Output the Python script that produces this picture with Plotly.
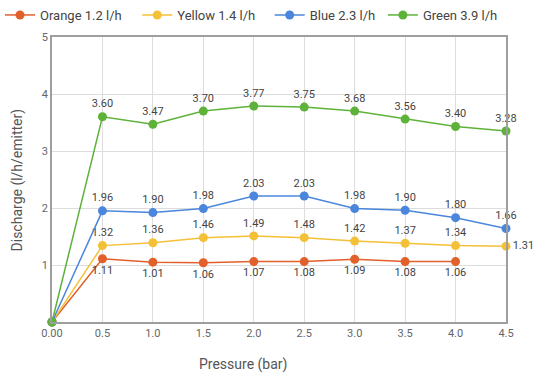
import plotly.graph_objects as go

pressure = [0.0, 0.5, 1.0, 1.5, 2.0, 2.5, 3.0, 3.5, 4.0, 4.5]
x_tick_vals = [0.0, 0.5, 1.0, 1.5, 2.0, 2.5, 3.0, 3.5, 4.0, 4.5]
x_tick_text = ["0.00", "0.5", "1.0", "1.5", "2.0", "2.5", "3.0", "3.5", "4.0", "4.5"]
y_tick_vals = [1, 2, 3, 4, 5]

series_names = ["Orange 1.2 l/h", "Yellow 1.4 l/h", "Blue 2.3 l/h", "Green 3.9 l/h"]
series_colors = ["#E2602B", "#F4C038", "#4A86DC", "#5DB23A"]

orange_vals = [0.0, 1.11, 1.05, 1.04, 1.06, 1.06, 1.10, 1.06, 1.06]
yellow_vals = [0.0, 1.34, 1.39, 1.48, 1.51, 1.48, 1.42, 1.38, 1.34, 1.33]
blue_vals = [0.0, 1.95, 1.92, 1.99, 2.21, 2.21, 1.99, 1.96, 1.83, 1.64]
green_vals = [0.0, 3.60, 3.47, 3.70, 3.79, 3.77, 3.70, 3.56, 3.43, 3.35]

orange_labels = ["", "1.11", "1.01", "1.06", "1.07", "1.08", "1.09", "1.08", "1.06"]
yellow_labels = ["", "1.32", "1.36", "1.46", "1.49", "1.48", "1.42", "1.37", "1.34", "1.31"]
blue_labels = ["", "1.96", "1.90", "1.98", "2.03", "2.03", "1.98", "1.90", "1.80", "1.66"]
green_labels = ["", "3.60", "3.47", "3.70", "3.77", "3.75", "3.68", "3.56", "3.40", "3.28"]

all_vals = [orange_vals, yellow_vals, blue_vals, green_vals]
all_labels = [orange_labels, yellow_labels, blue_labels, green_labels]

legend_ids = ["legend", "legend2", "legend3", "legend4"]
legend_x = [0.0, 0.257, 0.505, 0.717]

fig = go.Figure()
for i, (name, color, vals, labels) in enumerate(zip(series_names, series_colors, all_vals, all_labels)):
    n = len(vals)
    if i == 0:
        positions = ["bottom center"] * n
    elif i == 1:
        positions = ["top center"] * (n - 1) + ["middle right"]
    else:
        positions = ["top center"] * n
    fig.add_trace(go.Scatter(
        x=pressure[:n], y=vals, name=name, mode="lines+markers+text",
        text=labels, textposition=positions,
        textfont=dict(family="Roboto", size=11, color="#444444"),
        line=dict(color=color, width=1.5),
        marker=dict(color=color, size=9),
        cliponaxis=False, legend=legend_ids[i],
    ))

legend_common = dict(orientation="h", xref="container", xanchor="left",
                     y=1.0, yref="container", yanchor="top",
                     font=dict(size=13, color="#444444"), itemwidth=30,
                     itemclick=False, bgcolor="rgba(0,0,0,0)")

fig.update_layout(
    width=534, height=378,
    margin=dict(l=52, r=28, t=37, b=56, autoexpand=False),
    paper_bgcolor="white", plot_bgcolor="white",
    font=dict(family="Roboto", color="#555555"),
    showlegend=True,
    legend=dict(x=legend_x[0], **legend_common),
    legend2=dict(x=legend_x[1], **legend_common),
    legend3=dict(x=legend_x[2], **legend_common),
    legend4=dict(x=legend_x[3], **legend_common),
    xaxis=dict(range=[0, 4.5], tickvals=x_tick_vals, ticktext=x_tick_text,
               showgrid=True, gridcolor="#dddddd", gridwidth=1,
               showline=True, linecolor="#9e9e9e", linewidth=1.5, mirror=True,
               zeroline=False, tickfont=dict(size=11, color="#666666"), ticks="",
               automargin=False),
    yaxis=dict(range=[0, 5], tickvals=y_tick_vals,
               showgrid=True, gridcolor="#dddddd", gridwidth=1,
               showline=True, linecolor="#9e9e9e", linewidth=1.5, mirror=True,
               zeroline=False, tickfont=dict(size=11, color="#666666"), ticks="",
               automargin=False),
    annotations=[
        dict(text="Pressure (bar)", xref="paper", yref="paper",
             x=0.42, y=-0.148, xanchor="center", yanchor="middle",
             showarrow=False, font=dict(size=14, color="#555555")),
        dict(text="Discharge (l/h/emitter)", xref="paper", yref="paper",
             x=-0.075, y=0.5, xanchor="center", yanchor="middle", textangle=-90,
             showarrow=False, font=dict(size=14, color="#555555")),
    ],
)

fig.write_html("out.html", config={"displayModeBar": False},
               post_script="document.body.style.margin='0';document.body.style.overflow='hidden';")
